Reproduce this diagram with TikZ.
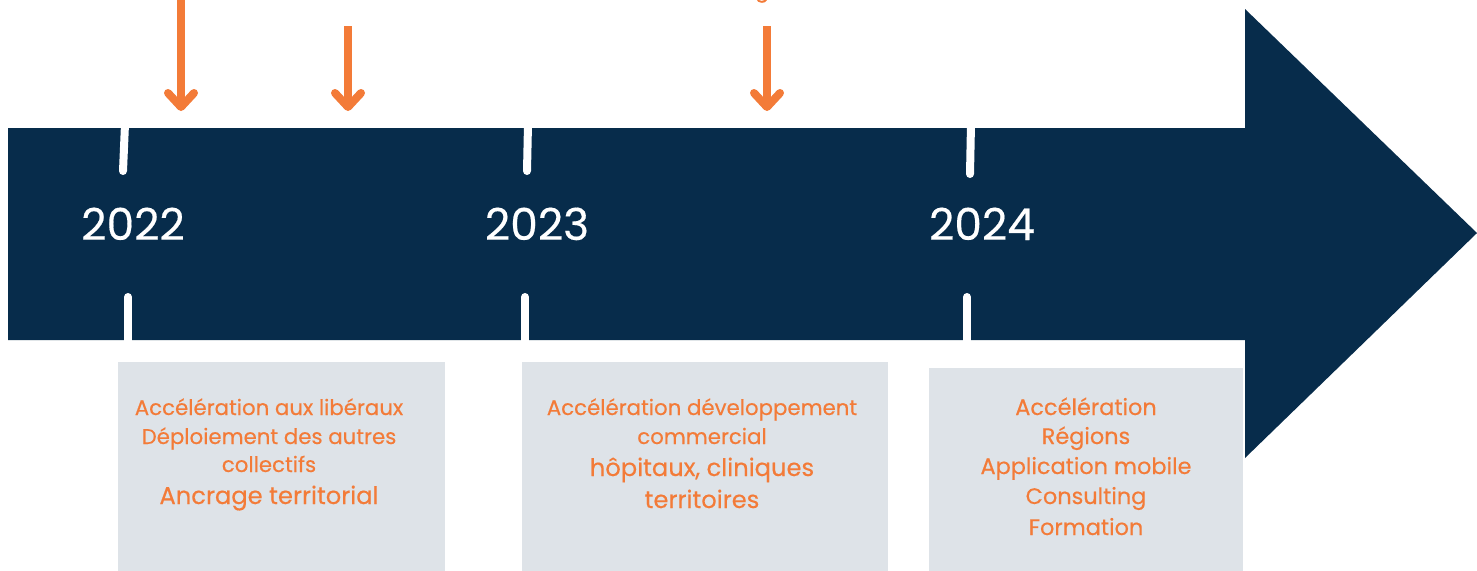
\documentclass[tikz,border=0pt]{standalone}
\usepackage{fontspec}
\setmainfont{Poppins}
\newfontfamily\medfont{Poppins}[FakeBold=0.35]
\definecolor{navy}{HTML}{072C4B}
\definecolor{boxgray}{HTML}{DEE3E8}
\definecolor{accent}{HTML}{F37B38}
\begin{document}
\begin{tikzpicture}[x=1pt,y=-1pt,
  year/.style={text=white,font=\medfont\fontsize{44}{44}\selectfont,anchor=base,inner sep=0pt},
  tickline/.style={draw=white,line width=8pt,line cap=round},
  panel/.style={fill=boxgray,draw=none},
  ln/.style={text=accent,font=\medfont\fontsize{21.3}{24}\selectfont,anchor=base,inner sep=0pt},
  lnwide/.style={text=accent,font=\medfont\fontsize{22.4}{26}\selectfont,anchor=base,inner sep=0pt},
  lnbig/.style={text=accent,font=\medfont\fontsize{24.2}{28}\selectfont,anchor=base,inner sep=0pt},
  pointer/.style={draw=accent,line width=8pt},
  chevron/.style={draw=accent,line width=8pt,line cap=round,line join=round},
]
\useasboundingbox (0,0) rectangle (1477,570);
% main timeline arrow
\fill[navy] (8,128) -- (1245,128) -- (1245,9) -- (1477,233) -- (1245,458) -- (1245,340) -- (8,340) -- cycle;
% ticks
\coordinate (t1a) at (125,124); \coordinate (t1b) at (123,171);
\coordinate (t1c) at (128,297); \coordinate (t1d) at (128,344);
\coordinate (t2a) at (528,124); \coordinate (t2b) at (527,171);
\coordinate (t2c) at (525,297); \coordinate (t2d) at (525,344);
\coordinate (t3a) at (971,124); \coordinate (t3b) at (970,174);
\coordinate (t3c) at (967,297); \coordinate (t3d) at (967,344);
\draw[tickline] (t1a) -- (t1b);
\draw[tickline] (t1c) -- (t1d);
\draw[tickline] (t2a) -- (t2b);
\draw[tickline] (t2c) -- (t2d);
\draw[tickline] (t3a) -- (t3b);
\draw[tickline] (t3c) -- (t3d);
% years
\node[year] (y2022) at (133,240) {2022};
\node[year] (y2023) at (537,240) {2023};
\node[year] (y2024) at (982,240) {2024};
% orange pointers
\coordinate (p1top) at (181,-5);  \coordinate (p1tip) at (181,107);
\coordinate (p2top) at (348,26);  \coordinate (p2tip) at (348,107);
\coordinate (p3top) at (767,26);  \coordinate (p3tip) at (767,107);
\foreach \p in {p1,p2,p3}{
  \draw[pointer] (\p top) -- ([yshift=3pt]\p tip);
  \draw[chevron] ([xshift=-13pt,yshift=14pt]\p tip) -- (\p tip) -- ([xshift=13pt,yshift=14pt]\p tip);
}
\node[text=accent,font=\medfont\fontsize{21.3}{24}\selectfont,anchor=base,inner sep=0pt] (cut) at (762,-3) {g};
% panels
\fill[panel] (118,362) rectangle (445,575);
\fill[panel] (522,362) rectangle (888,575);
\fill[panel] (929,368) rectangle (1243,575);
% panel 1
\node[ln] (a1) at (269,415) {Accélération aux libéraux};
\node[ln] (a2) at (269,444) {Déploiement des autres};
\node[ln] (a3) at (269,472) {collectifs};
\node[lnbig] (a4) at (269,504) {Ancrage territorial};
% panel 2
\node[ln] (b1) at (702,415) {Accélération développement};
\node[ln] (b2) at (702,444) {commercial};
\node[lnbig] (b3) at (702,476) {hôpitaux, cliniques};
\node[lnbig] (b4) at (702,508) {territoires};
% panel 3
\node[lnwide] (c1) at (1086,415) {Accélération};
\node[lnwide] (c2) at (1086,444) {Régions};
\node[lnwide] (c3) at (1086,474) {Application mobile};
\node[lnwide] (c4) at (1086,504) {Consulting};
\node[lnwide] (c5) at (1086,535) {Formation};
\end{tikzpicture}
\end{document}
